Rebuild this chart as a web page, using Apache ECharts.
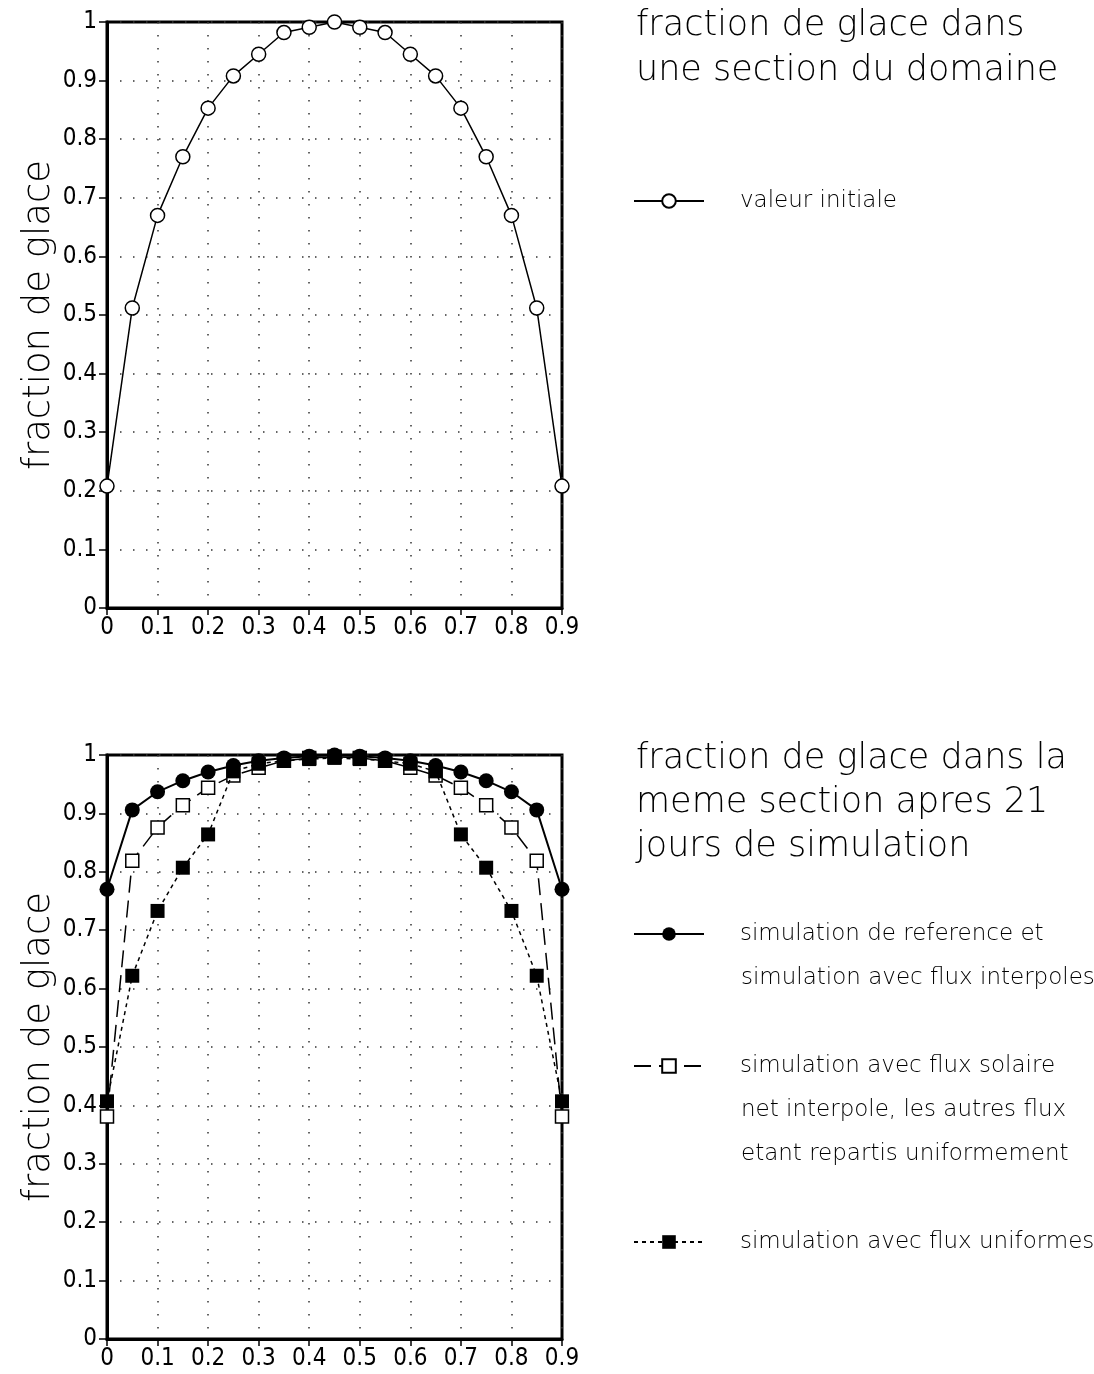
<!DOCTYPE html>
<html>
<head>
<meta charset="utf-8">
<script src="https://cdn.jsdelivr.net/npm/echarts@6/dist/echarts.min.js"></script>
<style>
html,body{margin:0;padding:0;background:#fff;}
#chart{width:1094px;height:1374px;}
</style>
</head>
<body>
<div id="chart"></div>
<script>
// ---- data ----
var xPositions = [0,0.05,0.1,0.15,0.2,0.25,0.3,0.35,0.4,0.45,0.5,0.55,0.6,0.65,0.7,0.75,0.8,0.85,0.9];
var initialValues = [0.208,0.512,0.670,0.770,0.853,0.908,0.945,0.982,0.991,1.0,0.991,0.982,0.945,0.908,0.853,0.770,0.670,0.512,0.208];
var referenceValues = [0.770,0.906,0.937,0.956,0.971,0.982,0.990,0.995,0.998,1.0,0.998,0.995,0.990,0.982,0.971,0.956,0.937,0.906,0.770];
var solarInterpValues = [0.381,0.819,0.876,0.914,0.944,0.965,0.978,0.990,0.995,0.997,0.995,0.990,0.978,0.965,0.944,0.914,0.876,0.819,0.381];
var uniformValues = [0.407,0.622,0.733,0.807,0.864,0.972,0.985,0.990,0.993,0.995,0.993,0.990,0.985,0.972,0.864,0.807,0.733,0.622,0.407];
var xTicks = ['0','0.1','0.2','0.3','0.4','0.5','0.6','0.7','0.8','0.9'];
var yTicks = ['0','0.1','0.2','0.3','0.4','0.5','0.6','0.7','0.8','0.9','1'];
var yAxisTitle = 'fraction de glace';
var topTitle = ['fraction de glace dans','une section du domaine'];
var bottomTitle = ['fraction de glace dans la','meme section apres 21','jours de simulation'];
var nameInitial = 'valeur initiale';
var nameRef = ['simulation de reference et','simulation avec flux interpoles'];
var nameSolar = ['simulation avec flux solaire','net interpole, les autres flux','etant repartis uniformement'];
var nameUniform = ['simulation avec flux uniformes'];

function pairs(ys){ return xPositions.map(function(x,i){ return [x, ys[i]]; }); }

var FONT = '"DejaVu Sans", sans-serif';
var TICKFONT = '"DejaVu Sans Condensed", sans-serif';

function xAxisDef(gi){
  return {
    type:'value', gridIndex:gi, min:0, max:0.9, interval:0.1,
    axisLine:{show:true, onZero:false, lineStyle:{color:'#000', width:3}},
    axisTick:{show:true, length:7, lineStyle:{color:'#000', width:1.5}},
    axisLabel:{color:'#000', fontSize:24, fontFamily:TICKFONT, margin:8,
      formatter:function(v){ return xTicks[Math.round(v*10)]; }},
    splitLine:{show:true, lineStyle:{color:'#333', width:1.5, type:[1.5,11.5]}}
  };
}
function yAxisDef(gi){
  return {
    type:'value', gridIndex:gi, min:0, max:1, interval:0.1,
    name:yAxisTitle, nameLocation:'middle', nameRotate:90, nameGap:49,
    nameTextStyle:{color:'#000', fontSize:37, fontFamily:FONT, fontWeight:300},
    axisLine:{show:true, onZero:false, lineStyle:{color:'#000', width:3}},
    axisTick:{show:true, length:8, lineStyle:{color:'#000', width:1.5}},
    axisLabel:{color:'#000', fontSize:24, fontFamily:TICKFONT, margin:10,
      formatter:function(v){ return yTicks[Math.round(v*10)]; }},
    splitLine:{show:true, lineStyle:{color:'#333', width:1.5, type:[1.5,11.5]}}
  };
}

function legendDef(name, centerY){
  return {
    data:[name], left:633, top:centerY-8.5, padding:0, itemWidth:70, itemHeight:17, itemGap:0,
    selectedMode:false,
    formatter:function(n){ return n.split('\n')[0]; },
    textStyle:{color:'#000', fontSize:23, fontFamily:FONT, fontWeight:300, padding:[0,0,0,31]}
  };
}

var titleStyle = {fill:'#000', fontSize:35, fontFamily:FONT, fontWeight:300};
var legendStyle = {fill:'#000', fontSize:23, fontFamily:FONT, fontWeight:300};
var graphics = [];
function addLines(lines, x, y0, dy, style){
  lines.forEach(function(t,i){
    graphics.push({type:'text', x:x, y:y0+i*dy, silent:true,
      style:Object.assign({text:t, verticalAlign:'middle', align:'left'}, style)});
  });
}

addLines(topTitle, 636, 26, 45, titleStyle);
addLines(bottomTitle, 636, 759, 44, titleStyle);
addLines(nameRef.slice(1), 741, 978, 44, legendStyle);
addLines(nameSolar.slice(1), 741, 1110, 44, legendStyle);

var option = {
  animation:false,
  backgroundColor:'#fff',
  grid:[
    {left:107, top:22, width:455, height:586, show:true, borderColor:'#000', borderWidth:3, backgroundColor:'transparent'},
    {left:107, top:755, width:455, height:584, show:true, borderColor:'#000', borderWidth:3, backgroundColor:'transparent'}
  ],
  xAxis:[xAxisDef(0), xAxisDef(1)],
  yAxis:[yAxisDef(0), yAxisDef(1)],
  legend:[
    legendDef(nameInitial, 198),
    legendDef(nameRef.join('\n'), 931),
    legendDef(nameSolar.join('\n'), 1063),
    legendDef(nameUniform.join('\n'), 1239)
  ],
  series:[
    {name:nameInitial, type:'line', xAxisIndex:0, yAxisIndex:0, data:pairs(initialValues),
      symbol:'circle', symbolSize:14, clip:false, z:3,
      lineStyle:{color:'#000', width:1.5},
      itemStyle:{color:'#fff', borderColor:'#000', borderWidth:1.5}},
    {name:nameSolar.join('\n'), type:'line', xAxisIndex:1, yAxisIndex:1, data:pairs(solarInterpValues),
      symbol:'rect', symbolSize:13, clip:false, z:3,
      lineStyle:{color:'#000', width:1.5, type:[17,8]},
      itemStyle:{color:'#fff', borderColor:'#000', borderWidth:1.5}},
    {name:nameRef.join('\n'), type:'line', xAxisIndex:1, yAxisIndex:1, data:pairs(referenceValues),
      symbol:'circle', symbolSize:15, clip:false, z:4,
      lineStyle:{color:'#000', width:2},
      itemStyle:{color:'#000', borderColor:'#000', borderWidth:0}},
    {name:nameUniform.join('\n'), type:'line', xAxisIndex:1, yAxisIndex:1, data:pairs(uniformValues),
      symbol:'rect', symbolSize:14, clip:false, z:5,
      lineStyle:{color:'#000', width:1.5, type:[4,4]},
      itemStyle:{color:'#000', borderColor:'#000', borderWidth:0}}
  ],
  graphic:graphics
};

var chart = echarts.init(document.getElementById('chart'), null, {renderer:'canvas'});
chart.setOption(option);
</script>
</body>
</html>
